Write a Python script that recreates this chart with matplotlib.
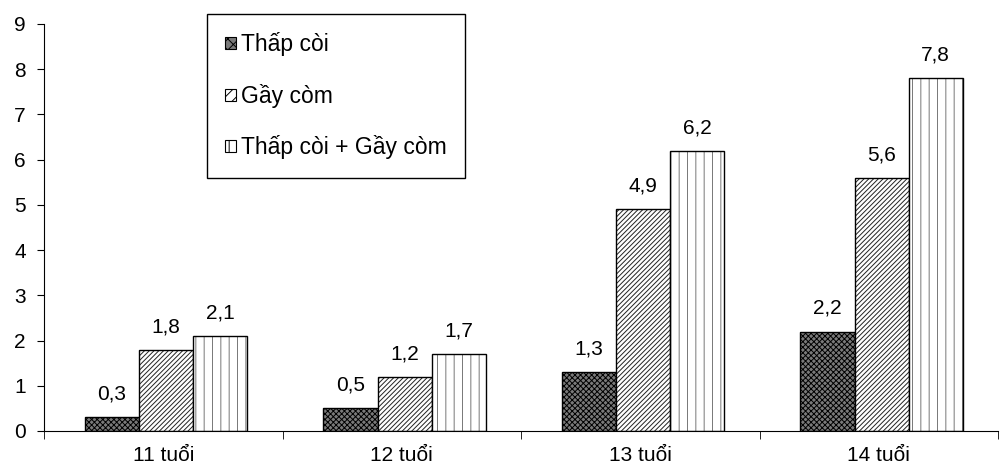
import matplotlib.pyplot as plt
import numpy as np

plt.rcParams['font.family'] = ['Liberation Sans', 'DejaVu Sans']
plt.rcParams['hatch.linewidth'] = 0.7

ages = ['11 tuổi', '12 tuổi', '13 tuổi', '14 tuổi']
series = ['Thấp còi', 'Gầy còm', 'Thấp còi + Gầy còm']
thap_coi = [0.3, 0.5, 1.3, 2.2]
gay_com = [1.8, 1.2, 4.9, 5.6]
ca_hai = [2.1, 1.7, 6.2, 7.8]

fig = plt.figure(figsize=(10.01, 4.68), dpi=100)
ax = fig.add_axes([44 / 1001, 1 - 431 / 468, 954 / 1001, 407 / 468])

x = np.arange(len(ages))
w = 0.227
values = [thap_coi, gay_com, ca_hai]
faces = ['#7a7a7a', 'white', 'white']
hatches = ['xxxxxx', '///////', '||']
hatch_cols = ['black', '#222222', '#777777']

handles = []
for i, vals in enumerate(values):
    pos = x + (i - 1) * w + 0.012
    # hatch layer, then a clean black outline on top
    ax.bar(pos, vals, w, facecolor=faces[i], edgecolor=hatch_cols[i],
           hatch=hatches[i], linewidth=0)
    ax.bar(pos, vals, w, facecolor='none', edgecolor='black', linewidth=1.0)
    handles.append(plt.Rectangle((0, 0), 1, 1, facecolor=faces[i], edgecolor='black',
                                 hatch=hatches[i][:3], linewidth=0.8))
    for xi, v in zip(pos, vals):
        ax.text(xi, v + 0.3, f'{v:.1f}'.replace('.', ','), ha='center', va='bottom',
                fontsize=15)

ax.set_xlim(-0.5, 3.5)
ax.set_ylim(0, 9)
ax.set_yticks(range(10))
ax.tick_params(axis='y', labelsize=15, length=5, direction='out', pad=8)
ax.set_xticks(x)
ax.set_xticklabels(ages, fontsize=15)
ax.tick_params(axis='x', length=0, pad=11)
ax.set_xticks(np.arange(-0.5, 4, 1), minor=True)
ax.tick_params(axis='x', which='minor', length=6, direction='out')
ax.spines['top'].set_visible(False)
ax.spines['right'].set_visible(False)

leg = fig.legend(handles=handles, labels=series, loc='upper left',
                 bbox_to_anchor=(207 / 1001, 1 - 14 / 468), fontsize=16.5,
                 frameon=True, fancybox=False, edgecolor='black', framealpha=1,
                 handlelength=0.45, handleheight=0.45, handletextpad=0.25,
                 labelspacing=1.2, borderpad=0.8, borderaxespad=0)
leg.get_frame().set_linewidth(1.0)

fig.savefig('out.png', dpi=100)
